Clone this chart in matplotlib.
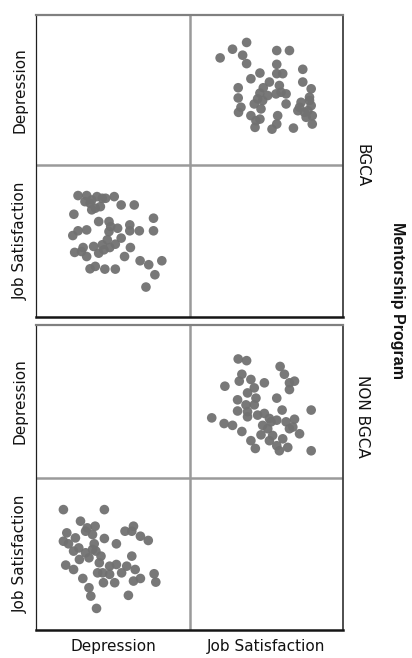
import numpy as np
import matplotlib.pyplot as plt

# Scatterplot matrix of depression vs job satisfaction, split by mentorship program
variables = ['Depression', 'Job Satisfaction']
groups = ['BGCA', 'NON BGCA']

# scores on a 0-10 scale
bgca_js = [1.97, 2.78, 3.70, 3.44, 3.70, 5.67, 6.50, 5.67, 5.67, 6.06, 7.37, 4.57, 3.98,
           5.19, 4.79, 4.57, 4.42, 4.20, 4.64, 3.15, 3.15, 3.33, 3.17, 3.98, 4.31, 4.57,
           4.25, 5.36, 5.67, 5.73, 5.84, 5.95, 6.28, 6.28, 7.37, 7.92, 7.81, 7.16, 7.48,
           7.92, 7.59, 7.99, 6.76, 7.81, 7.05, 5.08, 4.75, 7.26, 7.70, 7.99, 5.62]
bgca_dep = [7.14, 7.72, 8.17, 7.32, 6.76, 7.63, 7.63, 6.71, 6.09, 6.09, 6.38, 6.13, 5.75,
            5.53, 5.15, 4.79, 4.41, 4.07, 3.74, 5.15, 4.47, 3.85, 3.51, 3.29, 2.95, 3.06,
            2.51, 2.39, 2.73, 3.29, 5.30, 4.85, 4.74, 4.07, 5.53, 5.08, 4.30, 3.85, 3.51,
            3.96, 3.18, 2.73, 2.46, 4.52, 3.62, 4.63, 4.30, 4.18, 3.62, 3.29, 4.74]

non_js = [3.15, 3.70, 5.89, 6.17, 3.39, 3.22, 3.98, 4.86, 2.28, 4.20, 6.50, 6.83, 6.50,
          3.76, 4.31, 3.11, 5.67, 3.66, 3.11, 3.76, 6.02, 7.92, 1.42, 2.23, 2.78, 3.39,
          3.76, 4.42, 4.86, 5.19, 4.75, 5.08, 5.67, 6.28, 6.83, 6.50, 7.16, 6.72, 3.98,
          4.27, 4.64, 5.19, 5.67, 5.84, 6.39, 7.92, 5.40, 6.06, 4.20, 5.30]
non_dep = [7.78, 7.67, 7.29, 6.78, 6.78, 6.33, 6.44, 6.22, 6.00, 5.89, 6.22, 6.33, 5.78,
           5.56, 5.22, 5.11, 5.22, 4.78, 4.38, 4.33, 4.44, 4.44, 3.93, 3.56, 3.44, 3.04,
           4.00, 4.11, 4.22, 3.89, 3.44, 3.22, 3.78, 3.67, 3.84, 3.22, 2.89, 3.33, 2.44,
           1.93, 2.82, 2.44, 2.11, 1.78, 2.00, 1.78, 2.78, 2.56, 4.78, 3.67]

data = {
    'BGCA': {'Depression': bgca_dep, 'Job Satisfaction': bgca_js},
    'NON BGCA': {'Depression': non_dep, 'Job Satisfaction': non_js},
}

W, H = 412, 658
fig = plt.figure(figsize=(W / 100, H / 100), dpi=100)

def px_axes(x0, y0, x1, y1, **kw):
    return fig.add_axes([x0 / W, 1 - y1 / H, (x1 - x0) / W, (y1 - y0) / H], **kw)

# panel boxes in pixels: left, top, right, bottom, row split
panels = [(36, 15, 343, 317, 165), (36, 325, 343, 630, 478)]
xsplit = 190
dot = '#717171'

for (x0, y0, x1, y1, ysplit), g in zip(panels, groups):
    xs = [(x0, xsplit), (xsplit, x1)]
    ys = [(y0, ysplit), (ysplit, y1)]
    for r, yv in enumerate(variables):
        for c, xv in enumerate(variables):
            ax = px_axes(xs[c][0], ys[r][0], xs[c][1], ys[r][1])
            ax.set_xlim(0, 10)
            ax.set_ylim(0, 10)
            ax.set_xticks([])
            ax.set_yticks([])
            for s in ax.spines.values():
                s.set_visible(False)
            if r != c:
                ax.scatter(data[g][xv], data[g][yv], s=48, color=dot,
                           edgecolors='none', alpha=0.95)

    # frame and dividers
    fr = px_axes(x0, y0, x1, y1, facecolor='none')
    fr.set_xlim(x0, x1)
    fr.set_ylim(y1, y0)
    fr.set_xticks([])
    fr.set_yticks([])
    fr.axvline(xsplit, color='#9a9a9a', lw=1.8)
    fr.axhline(ysplit, color='#9a9a9a', lw=1.8)
    fr.spines['top'].set_color('#808080')
    fr.spines['top'].set_linewidth(1.6)
    fr.spines['left'].set_color('#202020')
    fr.spines['left'].set_linewidth(0.9)
    fr.spines['bottom'].set_color('#151515')
    fr.spines['bottom'].set_linewidth(1.8)
    fr.spines['right'].set_color('#404040')
    fr.spines['right'].set_linewidth(1.3)

    # row labels on the left
    for (ya, yb), v in zip(ys, variables):
        fig.text(20 / W, 1 - (ya + yb) / 2 / H, v, rotation=90, ha='center',
                 va='center', fontsize=11, color='#111111')

# group labels on the right
fig.text(362 / W, 1 - 166 / H, 'BGCA', rotation=270, ha='center', va='center',
         fontsize=11, color='#111111')
fig.text(362 / W, 1 - 416 / H, 'NON BGCA', rotation=270, ha='center', va='center',
         fontsize=11, color='#111111')
fig.text(397 / W, 1 - 300 / H, 'Mentorship Program', rotation=270, ha='center',
         va='center', fontsize=11.5, fontweight='bold', family='Liberation Sans',
         color='#111111')

# column labels along the bottom
for (xa, xb), v in zip([(36, xsplit), (xsplit, 343)], variables):
    fig.text((xa + xb) / 2 / W, 1 - 646 / H, v, ha='center', va='center',
             fontsize=11, color='#111111')

fig.savefig('out.png', dpi=100)
